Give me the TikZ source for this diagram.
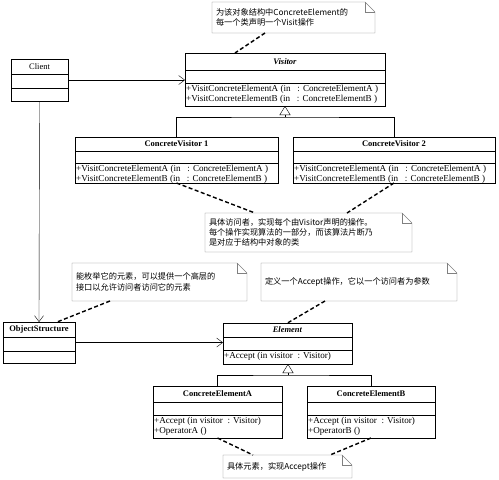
\documentclass[tikz,border=0pt]{standalone}
\usepackage{fontspec}
\setmainfont{Liberation Serif}
\newfontfamily\cjkfont{Noto Sans CJK SC}
\usetikzlibrary{arrows.meta}

\begin{document}
\begin{tikzpicture}[x = 1pt, y = -1pt, font=\fontsize{8.5}{10}\selectfont,
  cls/.style={draw=black, inner sep=0, outer sep=0},
  members/.style={anchor=north west, align=left, inner sep=1pt, font=\fontsize{9.1}{10.5}\selectfont},
  note/.style={align=left, inner xsep=4pt, inner ysep=0pt, outer sep=0, font=\cjkfont\fontsize{8.2}{10.3}\selectfont},
  assoc/.style={-{Straight Barb[length=6pt,width=9pt]}},
  inherit/.style={-{Triangle[open,length=9pt,width=11pt]}},
  anchorline/.style={dashed, line width=1.4pt, dash pattern=on 4pt off 2.5pt}]
\useasboundingbox (0,0) rectangle (499,480);
% Class boxes: name / left / right / top / header / middle / bottom / title
\foreach \n/\xa/\xb/\ya/\yb/\yc/\yd/\t in {
  client/11/68/59/74/88/101/Client,
  visitor/185/385/53/70/83/106/\textbf{\textit{Visitor}},
  cvone/75/278/137/151/163/183/\textbf{ConcreteVisitor 1},
  cvtwo/293/495/137/151/163/183/\textbf{ConcreteVisitor 2},
  objstruct/3/75/322/337/351/363/\textbf{ObjectStructure},
  element/223/352/323/337/350/364/\textbf{\textit{Element}},
  cea/153/282/386/402/415/438/\textbf{ConcreteElementA},
  ceb/307/435/386/402/415/438/\textbf{ConcreteElementB}} {
  \node[cls, minimum width={\xb-\xa}, minimum height={\yd-\ya}] (\n) at ({(\xa+\xb)/2},{(\ya+\yd)/2}) {};
  \node (\n-title) at ({(\xa+\xb)/2},{(\yb+\ya)/2}) {\t};
  \draw (\xa,\yb) -- (\xb,\yb) (\xa,\yc) -- (\xb,\yc);
}
% Operations
\node[members] (visitor-ops) at (185,83.5) {+VisitConcreteElementA (in \ \ : ConcreteElementA )\\+VisitConcreteElementB (in \ \ : ConcreteElementB )};
\node[members] (cvone-ops) at (75,163.5) {+VisitConcreteElementA (in \ \ : ConcreteElementA )\\+VisitConcreteElementB (in \ \ : ConcreteElementB )};
\node[members] (cvtwo-ops) at (293,163.5) {+VisitConcreteElementA (in \ \ : ConcreteElementA )\\+VisitConcreteElementB (in \ \ : ConcreteElementB )};
\node[members] (element-ops) at (223,350.5) {+Accept (in visitor \ : Visitor)};
\node[members] (cea-ops) at (153,415.5) {+Accept (in visitor \ : Visitor)\\+OperatorA ()};
\node[members] (ceb-ops) at (307,415.5) {+Accept (in visitor \ : Visitor)\\+OperatorB ()};
% Notes
\node[note, minimum height=31, text width=155] (note1) at (293.5,17.5) {为该对象结构中ConcreteElement的\\每一个类声明一个Visit操作};
\node[note, minimum height=39, text width=199] (note4) at (308.5,232.5) {具体访问者，实现每个由Visitor声明的操作。\\每个操作实现算法的一部分，而该算法片断乃\\是对应于结构中对象的类};
\node[note, minimum height=38, text width=167] (note2) at (159.5,282) {能枚举它的元素，可以提供一个高层的\\接口以允许访问者访问它的元素};
\node[note, minimum height=38, text width=188] (note3) at (359,282) {定义一个Accept操作，它以一个访问者为参数};
\node[note, minimum height=23, text width=121] (note5) at (287.5,466.5) {具体元素，实现Accept操作};
\foreach \n in {note1,note2,note3,note4,note5} {
  \draw[gray] (\n.north west) -- ([xshift=-10pt]\n.north east) -- ([yshift=-10pt]\n.north east)
    -- (\n.south east) -- (\n.south west) -- cycle;
  \draw[gray] ([xshift=-10pt]\n.north east) -- ([xshift=-10pt,yshift=-10pt]\n.north east) -- ([yshift=-10pt]\n.north east);
}
% Associations
\draw[assoc] (client.east) -- (client.east -| visitor.west);
\draw[assoc] (client.south) -- (objstruct.north);
\draw[assoc] (objstruct.east) -- (objstruct.east -| element.west);
% Generalizations
\coordinate (vjoin) at (285,117);
\draw (cvone.north) |- (vjoin) -| (cvtwo.north);
\draw[inherit] (vjoin) -- (visitor.south);
\coordinate (ejoin) at (288,375);
\draw (cea.north) |- (ejoin) -| (ceb.north);
\draw[inherit] (ejoin) -- (element.south -| ejoin);
% Note anchors
\draw[anchorline] ([xshift=-28.5pt]note1.south) -- ([xshift=-50pt]visitor.north);
\draw[anchorline] (cvone.south) -- ([xshift=-53.5pt]note4.north);
\draw[anchorline] (cvtwo.south) -- ([xshift=38.5pt]note4.north);
\draw[anchorline] ([xshift=-49.5pt]note2.south) -- ([xshift=18pt]objstruct.north);
\draw[anchorline] ([xshift=-34pt]note3.south) -- (element.north);
\draw[anchorline] (cea.south) -- ([xshift=-34.5pt]note5.north);
\draw[anchorline] (ceb.south) -- ([xshift=42.5pt]note5.north);
\end{tikzpicture}
\end{document}
